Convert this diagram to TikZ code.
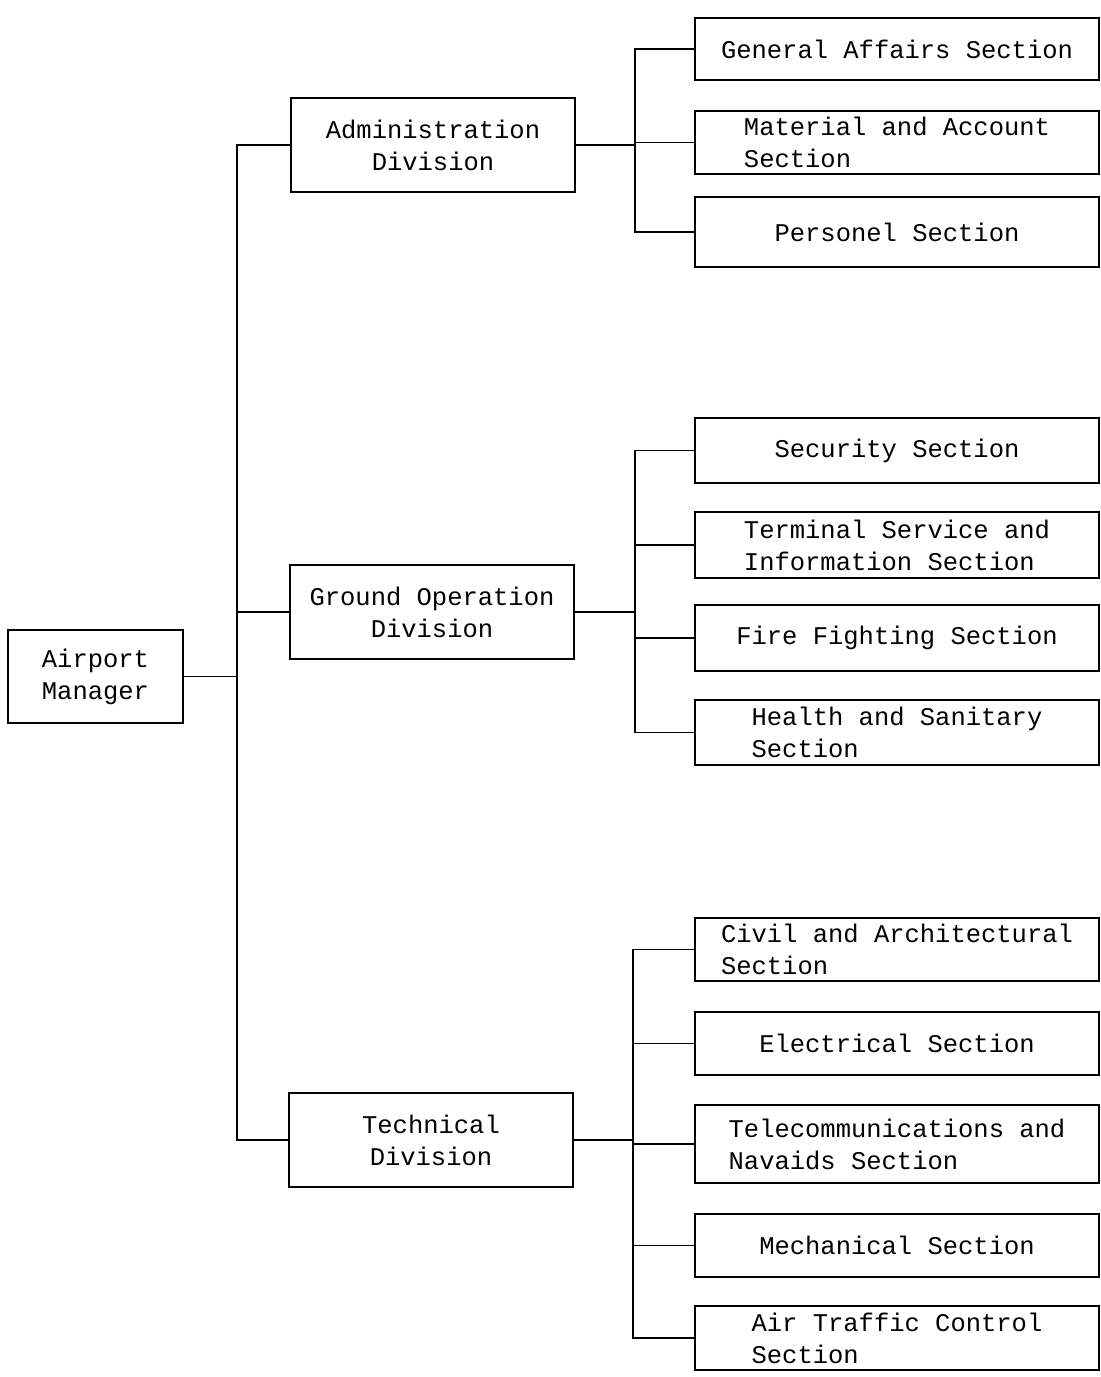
\documentclass[tikz,border=0pt]{standalone}
\usepackage{fontspec}
\setmonofont{Liberation Mono}
\begin{document}
\begin{tikzpicture}[x=1pt,y=-1pt,
  box/.style={draw,line width=1.4pt,inner sep=0pt,align=left,
    font=\ttfamily\fontsize{25.5}{32}\selectfont},
  divbox/.style={box,align=center,minimum width=284pt,minimum height=94pt},
  secbox/.style={box,minimum width=404pt},
  conn/.style={line width=1.3pt}]
\useasboundingbox (0,0) rectangle (1101,1377);
\coordinate (busA) at (237,0);
\coordinate (busB) at (635,0);
\coordinate (busC) at (633,0);

\node[box,align=center,minimum width=175pt,minimum height=93pt] (am) at (95.5,676.5) {Airport\\Manager};

\node[divbox] (adm) at (433,145) {Administration\\Division};
\node[divbox] (gro) at (432,612) {Ground Operation\\Division};
\node[divbox] (tec) at (431,1140) {Technical\\Division};

\node[secbox,minimum height=62pt] (ga) at (897,49) {General Affairs Section};
\node[secbox,minimum height=63pt] (ma) at (897,142.5) {Material and Account\\Section};
\node[secbox,minimum height=70pt] (ps) at (897,232) {Personel Section};

\node[secbox,minimum height=65pt] (se) at (897,450.5) {Security Section};
\node[secbox,minimum height=66pt] (ts) at (897,545) {Terminal Service and\\Information Section};
\node[secbox,minimum height=66pt] (ff) at (897,638) {Fire Fighting Section};
\node[secbox,minimum height=65pt] (hs) at (897,732.5) {Health and Sanitary\\Section};

\node[secbox,minimum height=63pt] (ca) at (897,949.5) {Civil and Architectural\\Section};
\node[secbox,minimum height=63pt] (el) at (897,1043.5) {Electrical Section};
\node[secbox,minimum height=78pt] (tc) at (897,1144) {Telecommunications and\\Navaids Section};
\node[secbox,minimum height=63pt] (me) at (897,1245.5) {Mechanical Section};
\node[secbox,minimum height=64pt] (at) at (897,1338) {Air Traffic Control\\Section};

% main bus
\draw[conn] (am.east) -- (am.east -| busA);
\draw[conn] (adm.west) -- (adm.west -| busA) -- (tec.west -| busA) -- (tec.west);
\draw[conn] (gro.west) -- (gro.west -| busA);

% administration
\draw[conn] (adm.east) -- (adm.east -| busB);
\draw[conn] (ga.west) -- (ga.west -| busB) -- (ps.west -| busB) -- (ps.west);
\draw[conn] (ma.west) -- (ma.west -| busB);

% ground operation
\draw[conn] (gro.east) -- (gro.east -| busB);
\draw[conn] (se.west) -- (se.west -| busB) -- (hs.west -| busB) -- (hs.west);
\draw[conn] (ts.west) -- (ts.west -| busB);
\draw[conn] (ff.west) -- (ff.west -| busB);

% technical
\draw[conn] (tec.east) -- (tec.east -| busC);
\draw[conn] (ca.west) -- (ca.west -| busC) -- (at.west -| busC) -- (at.west);
\draw[conn] (el.west) -- (el.west -| busC);
\draw[conn] (tc.west) -- (tc.west -| busC);
\draw[conn] (me.west) -- (me.west -| busC);
\end{tikzpicture}
\end{document}
